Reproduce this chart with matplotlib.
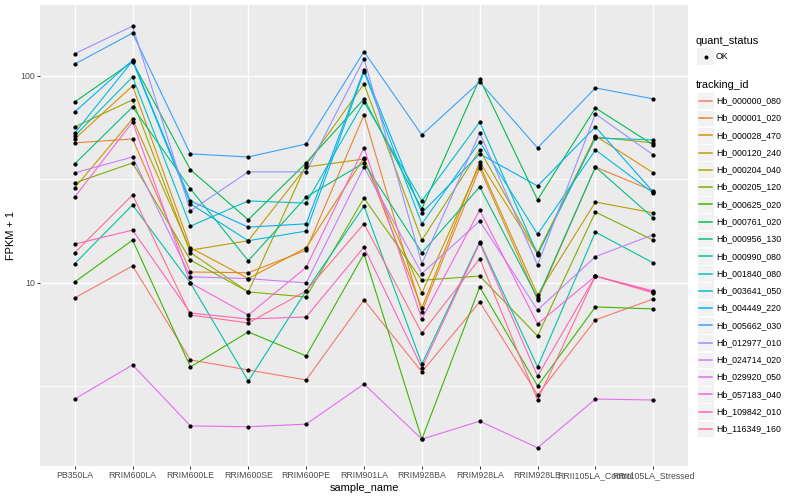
import matplotlib
matplotlib.use("Agg")
import matplotlib.pyplot as plt
from matplotlib.lines import Line2D
from matplotlib.patches import Rectangle
from matplotlib.ticker import FixedLocator, NullFormatter

plt.rcParams["font.family"] = ["Liberation Sans", "DejaVu Sans"]

samples = ["PB350LA", "RRIM600LA", "RRIM600LE", "RRIM600SE", "RRIM600PE",
           "RRIM901LA", "RRIM928BA", "RRIM928LA", "RRIM928LE",
           "RRII105LA_Control", "RRII105LA_Stressed"]

# FPKM + 1 per gene, one value per sample
hb_000000_080 = [8.46, 12.1, 4.25, 3.80, 3.40, 8.28, 3.72, 8.10, 2.88, 6.63, 8.37]
hb_000001_020 = [47.5, 49.6, 11.3, 11.2, 14.4, 64.8, 7.24, 35.9, 8.28, 36.3, 27.8]
hb_000028_470 = [49.6, 89.5, 14.8, 10.5, 14.8, 40.2, 7.57, 38.4, 13.8, 51.3, 34.0]
hb_000120_240 = [28.8, 62.0, 14.4, 16.0, 36.3, 39.7, 8.95, 37.2, 8.75, 24.6, 21.8]
hb_000204_040 = [56.7, 76.6, 14.0, 9.05, 37.2, 91.5, 16.1, 43.9, 14.0, 50.7, 47.5]
hb_000205_120 = [30.4, 38.0, 12.9, 9.05, 8.56, 25.7, 10.3, 10.8, 5.55, 22.0, 16.1]
hb_000625_020 = [10.1, 16.1, 3.93, 5.80, 4.44, 13.8, 1.76, 9.57, 3.18, 7.66, 7.49]
hb_000761_020 = [74.9, 117, 35.2, 20.2, 38.0, 77.4, 22.8, 96.8, 25.2, 70.0, 46.4]
hb_000956_130 = [37.6, 70.8, 28.5, 12.8, 26.0, 38.0, 14.0, 29.1, 8.46, 36.3, 20.6]
hb_000990_080 = [12.4, 23.8, 10.0, 3.36, 9.15, 23.5, 4.06, 15.8, 3.93, 17.6, 12.5]
hb_001840_080 = [51.3, 98.9, 18.8, 24.9, 24.3, 74.9, 24.9, 59.9, 13.7, 50.1, 49.1]
hb_003641_050 = [53.0, 118, 24.1, 16.0, 17.8, 105, 19.3, 48.0, 17.2, 43.9, 27.2]
hb_004449_220 = [67.0, 119, 24.9, 18.6, 19.3, 107, 21.8, 42.0, 29.4, 56.7, 27.5]
hb_005662_030 = [114, 161, 42.0, 40.6, 46.9, 131, 51.9, 93.5, 44.9, 87.5, 77.4]
hb_012977_010 = [128, 174, 22.3, 34.4, 34.4, 121, 12.4, 53.0, 12.2, 65.5, 41.5]
hb_024714_020 = [34.0, 40.6, 10.7, 10.5, 10.0, 36.3, 11.1, 19.9, 7.41, 13.4, 17.1]
hb_029920_050 = [2.75, 4.02, 2.04, 2.02, 2.08, 3.25, 1.76, 2.15, 1.60, 2.75, 2.72]
hb_057183_040 = [26.0, 59.9, 10.0, 7.00, 11.9, 44.9, 6.70, 22.5, 6.34, 10.8, 9.15]
hb_109842_010 = [15.4, 18.0, 7.16, 6.70, 6.85, 14.9, 3.89, 15.6, 3.55, 10.8, 9.05]
hb_116349_160 = [14.0, 26.6, 7.00, 6.41, 9.15, 19.3, 5.73, 13.1, 2.72, 10.8, 8.95]

tracking_ids = ["Hb_000000_080", "Hb_000001_020", "Hb_000028_470", "Hb_000120_240",
                "Hb_000204_040", "Hb_000205_120", "Hb_000625_020", "Hb_000761_020",
                "Hb_000956_130", "Hb_000990_080", "Hb_001840_080", "Hb_003641_050",
                "Hb_004449_220", "Hb_005662_030", "Hb_012977_010", "Hb_024714_020",
                "Hb_029920_050", "Hb_057183_040", "Hb_109842_010", "Hb_116349_160"]

series = [hb_000000_080, hb_000001_020, hb_000028_470, hb_000120_240,
          hb_000204_040, hb_000205_120, hb_000625_020, hb_000761_020,
          hb_000956_130, hb_000990_080, hb_001840_080, hb_003641_050,
          hb_004449_220, hb_005662_030, hb_012977_010, hb_024714_020,
          hb_029920_050, hb_057183_040, hb_109842_010, hb_116349_160]

# ggplot default hue palette for 20 levels
colors = ["#F8766D", "#EA8331", "#D89000", "#C09B00", "#A3A500", "#7CAE00",
          "#39B600", "#00BB4E", "#00BF7D", "#00C1A3", "#00BFC4", "#00BAE0",
          "#00B0F6", "#35A2FF", "#9590FF", "#C77CFF", "#E76BF3", "#FA62DB",
          "#FF62BC", "#FF6C91"]

W, H = 800, 500
fig = plt.figure(figsize=(W / 72, H / 72), dpi=72)


def fx(px):
    return px / W


def fy(py):
    return 1 - py / H


ax = fig.add_axes([fx(40), fy(466), fx(688) - fx(40), fy(5) - fy(466)])
ax.set_facecolor("#EBEBEB")
for s in ax.spines.values():
    s.set_visible(False)

x = list(range(len(samples)))
for vals, col in zip(series, colors):
    ax.plot(x, vals, color=col, lw=1.1, zorder=3)
for vals in series:
    ax.plot(x, vals, ls="none", marker="o", ms=3.2, color="black", zorder=4)

ax.set_yscale("log")
ax.set_ylim(1.306, 220)
ax.set_xlim(-0.6, len(samples) - 0.4)
ax.set_xticks(x)
ax.set_xticklabels(samples)
ax.yaxis.set_major_locator(FixedLocator([10, 100]))
ax.set_yticklabels(["10", "100"])
ax.yaxis.set_minor_locator(FixedLocator([10 ** 0.5, 10 ** 1.5]))
ax.yaxis.set_minor_formatter(NullFormatter())

ax.grid(which="major", color="white", lw=1.4)
ax.grid(which="minor", axis="y", color="white", lw=0.7)
ax.set_axisbelow(True)

ax.tick_params(which="major", length=2.75, width=1.0, color="#333333",
               labelsize=8.8, labelcolor="#4D4D4D", pad=2.2)
ax.tick_params(which="minor", length=0)

ax.set_xlabel("sample_name", fontsize=11, labelpad=3)
ax.set_ylabel("FPKM + 1", fontsize=11, labelpad=4)

# legend: quant_status
fig.text(fx(696), fy(41), "quant_status", fontsize=11, va="center", ha="left")
fig.add_artist(Rectangle((fx(697), fy(65)), fx(17), fy(48) - fy(65),
                         facecolor="#F2F2F2", edgecolor="none", zorder=1))
fig.add_artist(Line2D([fx(705.5)], [fy(56.5)], marker="o", ms=3.0,
                      color="black", ls="none", zorder=3))
fig.text(fx(716), fy(56.5), "OK", fontsize=8.8, va="center", ha="left")

# legend: tracking_id
fig.text(fx(696), fy(84.5), "tracking_id", fontsize=11, va="center", ha="left")
for i, (name, col) in enumerate(zip(tracking_ids, colors)):
    cy = 100.7 + i * 17.28
    fig.add_artist(Rectangle((fx(697), fy(cy + 8.4)), fx(17), fy(cy - 8.4) - fy(cy + 8.4),
                             facecolor="#F2F2F2", edgecolor="white", lw=0.8, zorder=1))
    fig.add_artist(Line2D([fx(699), fx(712)], [fy(cy), fy(cy)], color=col,
                          lw=1.5, zorder=3))
    fig.text(fx(716), fy(cy), name, fontsize=8.8, va="center", ha="left")

fig.savefig("out.png", dpi=72)
